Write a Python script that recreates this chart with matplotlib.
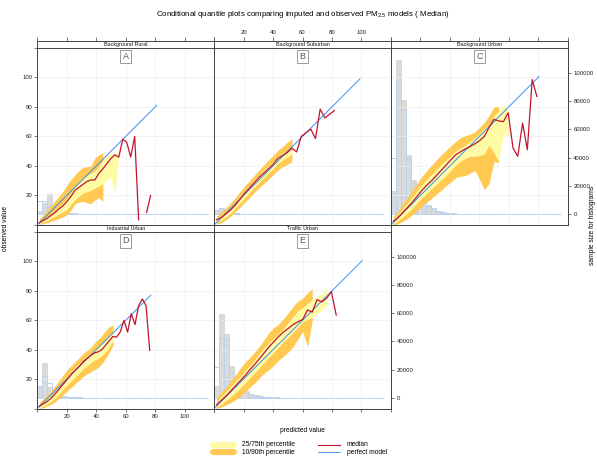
import numpy as np
import matplotlib
matplotlib.use('Agg')
import matplotlib.pyplot as plt
from matplotlib.lines import Line2D

plt.rcParams['font.family'] = ['Liberation Sans', 'DejaVu Sans']
plt.rcParams['mathtext.fontset'] = 'custom'
plt.rcParams['mathtext.rm'] = 'Liberation Sans'
plt.rcParams['mathtext.it'] = 'Liberation Sans:italic'

nan = np.nan

# ---- data ----
sites = ['Background Rural', 'Background Suburban', 'Background Urban', 'Industrial Urban', 'Traffic Urban']
tags = ['A', 'B', 'C', 'D', 'E']
pred_max = [81, 99, 100.5, 77, 100.5]

# A - Background Rural
a_x = [1.3, 4.0, 6.7, 9.4, 12.1, 14.8, 17.5, 20.2, 22.9, 25.6, 28.3, 31.0, 33.7, 36.4, 39.1, 41.8, 44.5,
       47.2, 49.9, 52.6, 55.3, 58.0, 60.7, 63.4, 66.1, 68.8, 71.5, 74.2, 76.9]
a_med = [1.5, 3.0, 4.5, 6.5, 8.5, 11.0, 13.0, 16.0, 19.5, 23.5, 25.5, 27.5, 29.5, 30.5, 30.5, 35.0, 38.0,
         41.5, 45.0, 47.5, 46.0, 58.0, 56.0, 46.0, 60.0, 3.5, nan, 8.5, 20.0]
a_q10 = [0.5, 1.0, 1.5, 2.5, 3.5, 4.5, 5.5, 7.0, 10.0, 14.5, 15.5, 16.0, 15.0, 14.5, 17.0, 18.5, 16.0]
a_q25 = [1.0, 2.0, 3.0, 4.5, 6.0, 7.5, 9.0, 10.5, 14.0, 17.0, 19.5, 21.5, 22.5, 23.5, 25.0, 26.5, 28.0,
         30.0, 33.0, 21.0, 46.0]
a_q75 = [2.5, 4.5, 5.5, 7.5, 10.0, 12.5, 15.0, 18.0, 22.0, 26.0, 29.0, 31.5, 33.5, 35.0, 36.5, 40.0, 43.5,
         47.0, 48.0, 48.5, 48.5]
a_q90 = [4.0, 7.0, 10.0, 13.0, 16.5, 19.5, 23.0, 27.0, 31.0, 34.0, 37.0, 39.0, 39.5, 40.0, 45.5, 47.5, 49.0]
a_hist_pred = [2000, 8000, 14000, 5500, 2500, 1500, 900, 500, 300, 180, 100, 60, 30, 15, 0, 0, 0,
               0, 0, 0, 0, 0, 0, 0, 0, 0, 0, 0, 0, 0, 0, 0, 0, 0]
a_hist_obs = [9500, 9500, 6000, 3000, 1500, 900, 500, 300, 180, 100, 60, 30, 15, 0, 0, 0, 0,
              0, 0, 0, 0, 0, 0, 0, 0, 0, 0, 0, 0, 0, 0, 0, 0, 0]

# B - Background Suburban
b_x = [1.6, 4.8, 8.0, 11.2, 14.4, 17.6, 20.8, 24.0, 27.2, 30.4, 33.6, 36.8, 40.0, 43.2, 46.4, 49.6, 52.8,
       56.0, 59.2, 62.4, 65.6, 68.8, 72.0, 75.2, 78.4, 81.6]
b_med = [3.5, 5.0, 7.5, 10.2, 13.5, 17.5, 21.5, 25.0, 28.5, 32.0, 35.0, 38.0, 41.0, 45.0, 47.0, 49.0, 52.0,
         49.5, 60.0, 62.5, 65.0, 58.5, 78.5, 72.5, 75.0, 77.5]
b_q10 = [0.5, 1.5, 3.5, 6.0, 9.0, 12.0, 15.5, 18.5, 22.0, 25.0, 28.0, 31.0, 34.0, 37.0, 39.5, 41.0, 43.0]
b_q25 = [2.0, 3.5, 5.5, 8.0, 11.5, 15.0, 18.5, 22.0, 25.5, 28.5, 32.0, 35.0, 38.0, 41.5, 44.0, 46.0, 48.0]
b_q75 = [4.5, 6.5, 9.0, 12.0, 15.5, 19.5, 23.0, 26.5, 30.0, 33.5, 37.0, 40.0, 43.0, 46.5, 48.5, 50.5, 52.5]
b_q90 = [6.0, 8.5, 11.5, 15.0, 18.5, 22.5, 26.5, 30.0, 33.5, 37.0, 40.5, 44.0, 47.0, 50.5, 53.0, 56.0, 58.5]
b_hist_pred = [2000, 4500, 3500, 1500, 800, 400, 200, 100, 50, 0, 0, 0, 0, 0, 0, 0, 0,
               0, 0, 0, 0, 0, 0, 0, 0, 0, 0, 0, 0, 0, 0, 0, 0, 0]
b_hist_obs = [3000, 4000, 2500, 1200, 600, 300, 150, 80, 40, 0, 0, 0, 0, 0, 0, 0, 0,
              0, 0, 0, 0, 0, 0, 0, 0, 0, 0, 0, 0, 0, 0, 0, 0, 0]

# C - Background Urban
c_x = [1.6, 4.9, 8.1, 11.4, 14.6, 17.9, 21.1, 24.4, 27.6, 30.9, 34.1, 37.4, 40.6, 43.9, 47.1, 50.4,
       53.6, 56.9, 60.1, 63.4, 66.6, 69.9, 73.1, 76.4, 79.6, 82.9, 86.1, 89.4, 92.6, 95.9, 99.1]
c_med = [2.5, 5.0, 8.5, 12.0, 15.5, 19.5, 23.5, 27.0, 30.0, 33.5, 37.0, 40.5, 44.0, 47.5, 49.5, 51.5,
         53.0, 55.0, 57.0, 60.0, 66.0, 71.5, 70.5, 70.0, 76.0, 52.0, 46.5, 69.0, 51.0, 98.5, 87.0]
c_q10 = [0.0, 1.0, 2.5, 4.5, 7.0, 10.0, 13.0, 15.5, 18.0, 21.0, 23.5, 26.5, 29.0, 32.0, 33.0, 33.5,
         35.0, 37.0, 31.0, 24.0, 28.0, 43.0, 42.0]
c_q25 = [1.0, 3.0, 5.5, 8.5, 11.5, 15.0, 18.5, 21.5, 24.5, 27.5, 30.5, 33.5, 37.0, 40.5, 43.0, 45.0,
         46.5, 46.5, 47.0, 48.0, 54.0, 49.0, 43.0, 62.0, 60.0]
c_q75 = [4.0, 7.0, 11.0, 15.0, 19.0, 23.5, 27.5, 31.0, 34.0, 37.5, 41.0, 44.0, 47.0, 50.0, 52.0, 54.0,
         56.5, 59.0, 62.0, 65.5, 68.0, 74.0, 77.0, 81.5, 78.0]
c_q90 = [5.5, 9.5, 14.5, 19.0, 23.5, 28.5, 33.0, 37.0, 40.5, 44.0, 47.5, 50.5, 53.5, 56.5, 59.0, 60.5,
         61.5, 63.0, 66.0, 69.5, 74.0, 80.0, 80.0]
c_hist_pred = [16500, 109000, 81000, 42000, 24500, 16500, 10000, 6500, 4000, 2500, 1600, 1000, 650, 400,
               250, 160, 100, 60, 40, 25, 15, 10, 5, 0, 0, 0, 0, 0, 0, 0, 0, 0, 0, 0]
c_hist_obs = [40000, 93500, 74000, 40000, 22000, 15000, 9500, 6000, 4000, 2500, 1600, 1000, 600, 400,
              250, 150, 100, 60, 40, 25, 15, 10, 5, 0, 0, 0, 0, 0, 0, 0, 0, 0, 0, 0]

# D - Industrial Urban
d_x = [1.3, 3.8, 6.3, 8.8, 11.3, 13.8, 16.3, 18.8, 21.3, 23.8, 26.3, 28.8, 31.3, 33.8, 36.3, 38.8,
       41.3, 43.8, 46.3, 48.8, 51.3, 53.8, 56.3, 58.8, 61.3, 63.8, 66.3, 68.8, 71.3, 73.8, 76.3]
d_med = [1.5, 3.0, 4.5, 6.5, 9.0, 12.0, 15.0, 18.0, 21.0, 24.0, 26.5, 29.0, 32.0, 34.0, 36.0, 37.8,
         38.5, 40.0, 43.0, 46.0, 49.0, 48.5, 52.0, 60.0, 52.0, 64.5, 57.0, 70.0, 74.5, 70.0, 39.5]
d_q10 = [0.0, 0.5, 1.5, 2.5, 4.0, 6.0, 8.0, 10.5, 13.0, 15.0, 17.5, 19.5, 22.0, 23.5, 25.0, 26.5,
         28.0, 30.5, 34.0, 38.0, 43.0]
d_q25 = [0.5, 1.5, 3.0, 4.5, 6.5, 9.0, 11.5, 14.5, 17.0, 19.5, 22.0, 24.5, 27.0, 29.0, 31.0, 33.0,
         34.0, 36.0, 38.5, 42.0, 46.0]
d_q75 = [2.5, 4.5, 6.5, 8.5, 11.0, 14.0, 17.0, 20.0, 23.0, 26.0, 28.5, 31.0, 33.5, 35.5, 37.5, 40.0,
         42.0, 44.5, 47.0, 49.5, 52.0]
d_q90 = [4.0, 6.5, 9.0, 11.0, 14.5, 17.5, 21.0, 24.5, 27.5, 30.0, 32.5, 35.0, 37.5, 39.5, 41.5, 44.5,
         47.0, 49.5, 53.0, 55.5, 57.0]
d_hist_pred = [8000, 25000, 7500, 3700, 2000, 1000, 550, 300, 180, 100, 60, 30, 15, 0, 0, 0, 0,
               0, 0, 0, 0, 0, 0, 0, 0, 0, 0, 0, 0, 0, 0, 0, 0, 0]
d_hist_obs = [7800, 15500, 10500, 4500, 2000, 1000, 550, 300, 180, 100, 60, 30, 15, 0, 0, 0, 0,
              0, 0, 0, 0, 0, 0, 0, 0, 0, 0, 0, 0, 0, 0, 0, 0, 0]

# E - Traffic Urban
e_x = [1.6, 4.9, 8.1, 11.4, 14.6, 17.9, 21.1, 24.4, 27.6, 30.9, 34.1, 37.4, 40.6, 43.9, 47.1, 50.4,
       53.6, 56.9, 60.1, 63.4, 66.6, 69.9, 73.1, 76.4, 79.6, 82.9]
e_med = [2.5, 5.5, 8.5, 12.0, 15.5, 19.0, 22.5, 26.5, 30.0, 34.0, 38.0, 42.0, 45.5, 49.0, 52.0, 54.5,
         57.0, 59.0, 60.5, 67.0, 65.5, 74.0, 72.5, 75.0, 79.5, 63.5]
e_q10 = [0.0, 1.0, 2.5, 4.0, 6.0, 8.5, 11.5, 14.5, 17.5, 21.0, 24.0, 26.5, 29.5, 33.0, 35.5, 38.5,
         42.0, 47.0, 52.5, 42.0, 60.0]
e_q25 = [1.0, 3.0, 5.5, 8.0, 11.0, 14.0, 17.5, 21.0, 24.5, 28.0, 31.5, 35.0, 38.5, 42.0, 45.5, 48.5,
         52.0, 55.5, 59.0, 60.5, 62.0, 64.5, 67.0, 69.5]
e_q75 = [4.5, 8.0, 11.5, 15.0, 18.5, 22.0, 26.0, 29.5, 33.0, 37.5, 41.5, 45.0, 48.0, 51.0, 54.5, 58.5,
         62.5, 66.5, 68.5, 71.5, 74.0, 76.0, 78.0, 82.0]
e_q90 = [7.0, 11.0, 14.5, 19.0, 23.0, 27.5, 31.5, 35.0, 38.5, 42.5, 47.0, 52.0, 55.0, 57.5, 61.0, 65.0,
         69.5, 73.0, 75.0, 78.5, 81.5]
e_hist_pred = [8500, 59500, 45000, 22500, 9000, 6000, 4500, 2800, 1600, 900, 550, 350, 200, 120,
               70, 40, 20, 10, 5, 0, 0, 0, 0, 0, 0, 0, 0, 0, 0, 0, 0, 0, 0, 0]
e_hist_obs = [21500, 42500, 42000, 18500, 7000, 4500, 3000, 2000, 1200, 700, 400, 250, 150, 90,
              50, 30, 15, 8, 0, 0, 0, 0, 0, 0, 0, 0, 0, 0, 0, 0, 0, 0, 0, 0]

hist_width = 3.4

xs = [a_x, b_x, c_x, d_x, e_x]
meds = [a_med, b_med, c_med, d_med, e_med]
q10s = [a_q10, b_q10, c_q10, d_q10, e_q10]
q25s = [a_q25, b_q25, c_q25, d_q25, e_q25]
q75s = [a_q75, b_q75, c_q75, d_q75, e_q75]
q90s = [a_q90, b_q90, c_q90, d_q90, e_q90]
h_pred = [a_hist_pred, b_hist_pred, c_hist_pred, d_hist_pred, e_hist_pred]
h_obs = [a_hist_obs, b_hist_obs, c_hist_obs, d_hist_obs, e_hist_obs]

# colours
col_inner = '#FFFAA6'
col_outer = '#FFC952'
col_med = '#C0142E'
col_perf = '#3A8EEF'
frame = '#444444'

W, H = 597, 458
fig = plt.figure(figsize=(W / 100, H / 100), dpi=100)


def px_axes(x0, y0, x1, y1):
    # box in pixels, y measured from the top
    return fig.add_axes([x0 / W, 1 - y1 / H, (x1 - x0) / W, (y1 - y0) / H])


def fx(x):
    return x / W


def fy(y):
    return 1 - y / H


pw = 176.8
col_x = [37.3, 37.3 + pw, 37.3 + 2 * pw]
rows = [(41.0, 47.8, 225.0), (225.0, 232.0, 408.5)]
where = [(0, 0), (0, 1), (0, 2), (1, 0), (1, 1)]
ticks = [0, 20, 40, 60, 80, 100, 120]
tick_lab = ['', '20', '40', '60', '80', '100', '']
fs_tick = 4.3

for i in range(5):
    r, c = where[i]
    st, pt, pb = rows[r]
    x0 = col_x[c]
    ax = px_axes(x0, pt, x0 + pw, pb)
    ax2 = ax.twinx()
    ax.set_zorder(ax2.get_zorder() + 1)
    ax.patch.set_visible(False)

    # histograms (sample size)
    left = np.arange(len(h_pred[i])) * hist_width
    ax2.bar(left, h_pred[i], width=hist_width, align='edge', color='#d6d6d6',
            edgecolor='#c6c6c6', linewidth=0.4, alpha=0.9)
    ax2.bar(left, h_obs[i], width=hist_width, align='edge', facecolor='none',
            edgecolor='#b8d3f3', linewidth=0.7)
    ax2.set_ylim(-7700, 117800)

    x = np.array(xs[i])
    q10, q25, q75, q90 = q10s[i], q25s[i], q75s[i], q90s[i]
    ax.fill_between(x[:len(q10)], q10, q90, color=col_outer, linewidth=0)
    ax.fill_between(x[:len(q25)], q25, q75, color=col_inner, linewidth=0)
    ax.plot([0, pred_max[i]], [0, pred_max[i]], color=col_perf, lw=0.7)
    ax.plot(x, meds[i], color=col_med, lw=0.9)

    ax.set_xlim(0, 120)
    ax.set_ylim(0, 120)
    ax.set_xticks(ticks)
    ax.set_yticks(ticks)
    ax.grid(color='#eeeeee', lw=0.5)
    ax.set_axisbelow(True)

    show_left = c == 0
    show_bottom = r == 1
    ax.tick_params(axis='y', left=show_left, labelleft=show_left, right=False,
                   length=2, width=0.5, color=frame, labelsize=fs_tick, pad=1.5, labelcolor='#222')
    ax.tick_params(axis='x', bottom=show_bottom, labelbottom=(r == 1 and c == 0), top=False,
                   length=2.5, width=0.5, color=frame, labelsize=fs_tick, pad=1.5, labelcolor='#222')
    ax.set_yticklabels(tick_lab)
    ax.set_xticklabels(tick_lab)

    if c == 2 or (r == 1 and c == 1):
        ax2.set_yticks([0, 20000, 40000, 60000, 80000, 100000])
        ax2.tick_params(axis='y', right=True, labelright=True, length=2.5, width=0.5,
                        color=frame, labelsize=fs_tick, pad=1.5, labelcolor='#222')
    else:
        ax2.set_yticks([])

    for a in (ax, ax2):
        for s in a.spines.values():
            s.set_color(frame)
            s.set_linewidth(0.7)

    ax.text(0.5, 0.95, tags[i], transform=ax.transAxes, ha='center', va='center',
            fontsize=6.5, color='#555555',
            bbox=dict(boxstyle='square,pad=0.25', fc='white', ec='#9a9a9a', lw=0.7))

    # strip
    sx = px_axes(x0, st, x0 + pw, pt)
    sx.set_xlim(0, 120)
    sx.set_yticks([])
    sx.set_xticks(ticks)
    if r == 0:
        sx.tick_params(axis='x', bottom=False, labelbottom=False, top=True, labeltop=(c == 1),
                       length=3, width=0.5, color=frame, labelsize=fs_tick, pad=1.5, labelcolor='#222')
        sx.set_xticklabels(tick_lab)
    else:
        sx.tick_params(axis='x', bottom=False, labelbottom=False)
    for s in sx.spines.values():
        s.set_color(frame)
        s.set_linewidth(0.7)
    sx.text(0.5, 0.45, sites[i], transform=sx.transAxes, ha='center', va='center',
            fontsize=3.9, color='#111')

# titles and axis labels
fig.text(fx(303), fy(15), 'Conditional quantile plots comparing imputed and observed PM$_{2.5}$ models ( Median)',
         ha='center', va='center', fontsize=5.7)
fig.text(fx(302), fy(430), 'predicted value', ha='center', va='center', fontsize=4.8)
fig.text(fx(6), fy(228), 'observed value', ha='center', va='center', rotation=90, fontsize=4.8)
fig.text(fx(592), fy(225), 'sample size for histograms', ha='center', va='center', rotation=90, fontsize=4.8)

# legend
fig.add_artist(Line2D([fx(213), fx(234)], [fy(444.5), fy(444.5)], color=col_inner, lw=4.4,
                      solid_capstyle='round'))
fig.add_artist(Line2D([fx(213), fx(234)], [fy(451.5), fy(451.5)], color=col_outer, lw=4.4,
                      solid_capstyle='round'))
fig.text(fx(242), fy(445), '25/75th percentile', ha='left', va='center', fontsize=4.8)
fig.text(fx(242), fy(452), '10/90th percentile', ha='left', va='center', fontsize=4.8)
fig.add_artist(Line2D([fx(318), fx(340)], [fy(445), fy(445)], color=col_med, lw=0.8))
fig.add_artist(Line2D([fx(318), fx(340)], [fy(451.7), fy(451.7)], color=col_perf, lw=0.6))
fig.text(fx(347), fy(445), 'median', ha='left', va='center', fontsize=4.8)
fig.text(fx(347), fy(452), 'perfect model', ha='left', va='center', fontsize=4.8)

plt.savefig('out.png', dpi=100)
